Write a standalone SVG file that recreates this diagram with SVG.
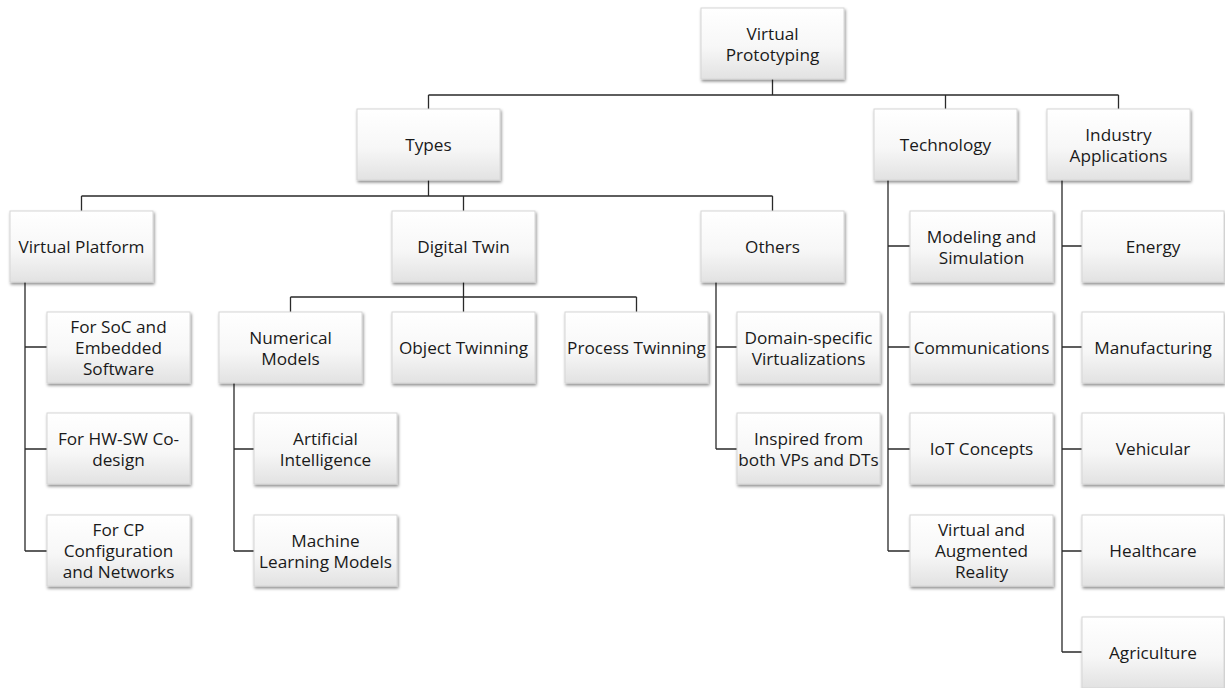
<svg xmlns="http://www.w3.org/2000/svg" width="1225" height="688" viewBox="0 0 1225 688">
<defs>
<linearGradient id="g" x1="0" y1="0" x2="0" y2="1">
<stop offset="0" stop-color="#ffffff"/>
<stop offset="0.55" stop-color="#f7f7f7"/>
<stop offset="1" stop-color="#e2e2e2"/>
</linearGradient>
<filter id="sh" x="-10%" y="-10%" width="125%" height="130%">
<feDropShadow dx="1" dy="2" stdDeviation="1.4" flood-color="#000" flood-opacity="0.45"/>
</filter>
</defs>
<style>
.b{fill:url(#g);stroke:#d6d6d6;stroke-width:1;filter:url(#sh)}
.t{font-family:"Open Sans","Noto Sans",sans-serif;font-size:17.2px;fill:#1a1a1a;text-anchor:middle;dominant-baseline:central}
.c{fill:none;stroke:#2a2a2a;stroke-width:1.3}
</style>
<rect width="1225" height="688" fill="#ffffff"/>
<g id="connectors" class="c">
<path d="M772.5,79 V95 M428.5,95 H1118.5 M428.5,95 V109 M945.5,95 V109 M1118.5,95 V109"/>
<path d="M428.5,180 V196 M81.5,196 H772.5 M81.5,196 V211 M463.5,196 V211 M772.5,196 V211"/>
<path d="M463.5,282 V297 M290.5,297 H636.5 M290.5,297 V312 M463.5,297 V312 M636.5,297 V312"/>
<path d="M25,282 V551 M25,347 H47 M25,449 H47 M25,551 H47"/>
<path d="M234,383 V551 M234,449 H254 M234,551 H254"/>
<path d="M716,282 V449 M716,347 H737 M716,449 H737"/>
<path d="M888,180 V551 M888,246 H910 M888,347 H910 M888,449 H910 M888,551 H910"/>
<path d="M1062,180 V652 M1062,246 H1082 M1062,347 H1082 M1062,449 H1082 M1062,551 H1082 M1062,652 H1082"/>
</g>
<g id="n-root"><rect class="b" x="701" y="8" width="143" height="71"/><text class="t" x="772.5" y="33">Virtual</text><text class="t" x="772.5" y="54">Prototyping</text></g>
<g id="n-types"><rect class="b" x="357" y="109" width="143" height="71"/><text class="t" x="428.5" y="144.5">Types</text></g>
<g id="n-technology"><rect class="b" x="874" y="109" width="143" height="71"/><text class="t" x="945.5" y="144.5">Technology</text></g>
<g id="n-industry"><rect class="b" x="1047" y="109" width="143" height="71"/><text class="t" x="1118.5" y="134">Industry</text><text class="t" x="1118.5" y="155">Applications</text></g>
<g id="n-vp"><rect class="b" x="10" y="211" width="143" height="71"/><text class="t" x="81.5" y="246.5">Virtual Platform</text></g>
<g id="n-dt"><rect class="b" x="392" y="211" width="143" height="71"/><text class="t" x="463.5" y="246.5">Digital Twin</text></g>
<g id="n-others"><rect class="b" x="701" y="211" width="143" height="71"/><text class="t" x="772.5" y="246.5">Others</text></g>
<g id="n-soc"><rect class="b" x="47" y="312" width="143" height="71"/><text class="t" x="118.5" y="326.5">For SoC and</text><text class="t" x="118.5" y="347.5">Embedded</text><text class="t" x="118.5" y="368.5">Software</text></g>
<g id="n-hwsw"><rect class="b" x="47" y="413" width="143" height="71"/><text class="t" x="118.5" y="438">For HW-SW Co-</text><text class="t" x="118.5" y="459">design</text></g>
<g id="n-cp"><rect class="b" x="47" y="515" width="143" height="71"/><text class="t" x="118.5" y="529.5">For CP</text><text class="t" x="118.5" y="550.5">Configuration</text><text class="t" x="118.5" y="571.5">and Networks</text></g>
<g id="n-num"><rect class="b" x="219" y="312" width="143" height="71"/><text class="t" x="290.5" y="337">Numerical</text><text class="t" x="290.5" y="358">Models</text></g>
<g id="n-obj"><rect class="b" x="392" y="312" width="143" height="71"/><text class="t" x="463.5" y="347.5">Object Twinning</text></g>
<g id="n-proc"><rect class="b" x="565" y="312" width="143" height="71"/><text class="t" x="636.5" y="347.5">Process Twinning</text></g>
<g id="n-ai"><rect class="b" x="254" y="413" width="143" height="71"/><text class="t" x="325.5" y="438">Artificial</text><text class="t" x="325.5" y="459">Intelligence</text></g>
<g id="n-ml"><rect class="b" x="254" y="515" width="143" height="71"/><text class="t" x="325.5" y="540">Machine</text><text class="t" x="325.5" y="561">Learning Models</text></g>
<g id="n-domain"><rect class="b" x="737" y="312" width="143" height="71"/><text class="t" x="808.5" y="337">Domain-specific</text><text class="t" x="808.5" y="358">Virtualizations</text></g>
<g id="n-inspired"><rect class="b" x="737" y="413" width="143" height="71"/><text class="t" x="808.5" y="438">Inspired from</text><text class="t" x="808.5" y="459">both VPs and DTs</text></g>
<g id="n-modeling"><rect class="b" x="910" y="211" width="143" height="71"/><text class="t" x="981.5" y="236">Modeling and</text><text class="t" x="981.5" y="257">Simulation</text></g>
<g id="n-comm"><rect class="b" x="910" y="312" width="143" height="71"/><text class="t" x="981.5" y="347.5">Communications</text></g>
<g id="n-iot"><rect class="b" x="910" y="413" width="143" height="71"/><text class="t" x="981.5" y="448.5">IoT Concepts</text></g>
<g id="n-var"><rect class="b" x="910" y="515" width="143" height="71"/><text class="t" x="981.5" y="529.5">Virtual and</text><text class="t" x="981.5" y="550.5">Augmented</text><text class="t" x="981.5" y="571.5">Reality</text></g>
<g id="n-energy"><rect class="b" x="1082" y="211" width="142" height="71"/><text class="t" x="1153" y="246.5">Energy</text></g>
<g id="n-manuf"><rect class="b" x="1082" y="312" width="142" height="71"/><text class="t" x="1153" y="347.5">Manufacturing</text></g>
<g id="n-veh"><rect class="b" x="1082" y="413" width="142" height="71"/><text class="t" x="1153" y="448.5">Vehicular</text></g>
<g id="n-health"><rect class="b" x="1082" y="515" width="142" height="71"/><text class="t" x="1153" y="550.5">Healthcare</text></g>
<g id="n-agri"><rect class="b" x="1082" y="617" width="142" height="71"/><text class="t" x="1153" y="652.5">Agriculture</text></g>
</svg>
